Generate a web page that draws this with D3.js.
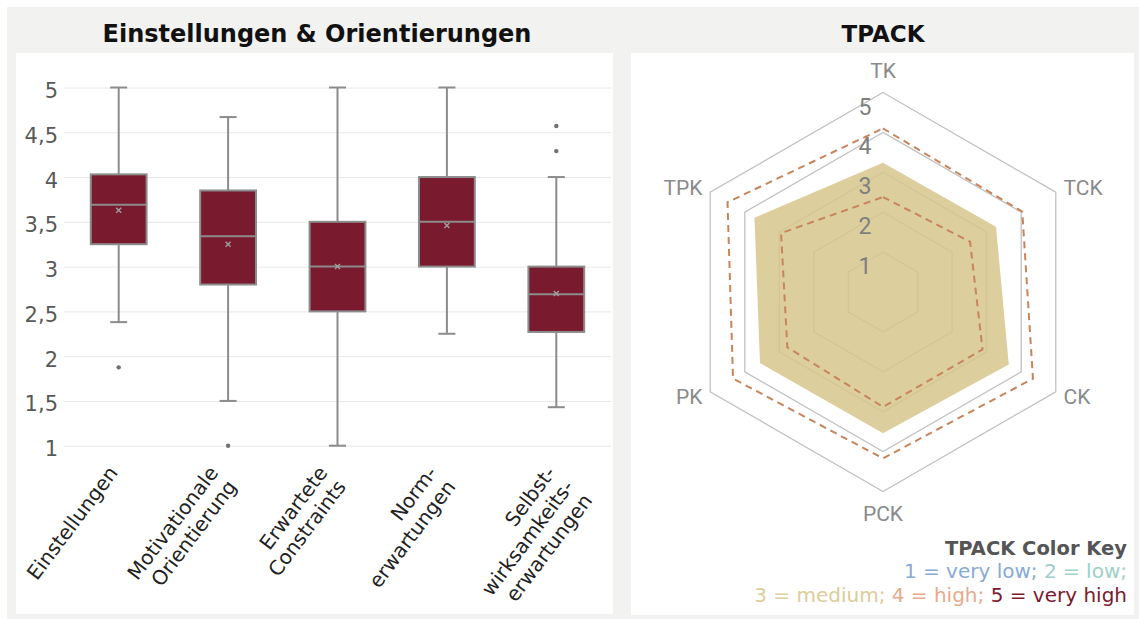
<!DOCTYPE html>
<html>
<head>
<meta charset="utf-8">
<script src="https://cdn.jsdelivr.net/npm/d3@7"></script>
<style>
    body { margin: 0; background: #fff; }
    svg { display: block; }
</style>
</head>
<body>
<svg id="chart" width="1139" height="619"></svg>
<script>
// box plot: Einstellungen & Orientierungen
const categories = ['Einstellungen', 'Motivationale Orientierung', 'Erwartete Constraints', 'Normerwartungen', 'Selbstwirksamkeitserwartungen']
const categoryLines = [['Einstellungen'], ['Motivationale', 'Orientierung'], ['Erwartete', 'Constraints'], ['Norm-', 'erwartungen'], ['Selbst-', 'wirksamkeits-', 'erwartungen']]
const whiskerLow = [2.38, 1.5, 1.0, 2.25, 1.43]
const quartile1 = [3.25, 2.8, 2.5, 3.0, 2.27]
const medians = [3.69, 3.34, 3.0, 3.5, 2.69]
const quartile3 = [4.03, 3.85, 3.5, 4.0, 3.0]
const whiskerHigh = [5, 4.67, 5, 5, 4.0]
const means = [3.63, 3.25, 3.0, 3.46, 2.7]
const outliers = [[1.875], [1.0], [], [], [4.57, 4.29]]
const yTicks = [1, 1.5, 2, 2.5, 3, 3.5, 4, 4.5, 5]

// radar: TPACK
const tpackAxes = ['TK', 'TCK', 'CK', 'PCK', 'PK', 'TPK']
const tpackMean = [3.24, 3.27, 3.64, 3.54, 3.56, 3.72]
const tpackUpper = [4.1, 4.03, 4.34, 4.17, 4.34, 4.5]
const tpackLower = [2.38, 2.52, 2.88, 2.88, 2.77, 2.95]
const ringLevels = [1, 2, 3, 4, 5]

const legendLine1 = [['1 = very low; ', '#88aad3'], ['2 = low;', '#9dd0c8']]
const legendLine2 = [['3 = medium; ', '#dccd99'], ['4 = high; ', '#e9a98a'], ['5 = very high', '#7b1a2e']]

const svg = d3.select('#chart')
const font = 'DejaVu Sans, Verdana, sans-serif'

// backgrounds
svg.append('rect').attr('x', 7).attr('y', 7).attr('width', 1132).attr('height', 612).attr('fill', '#f2f2f0')
svg.append('rect').attr('x', 16).attr('y', 53).attr('width', 597).attr('height', 561).attr('fill', '#fff')
svg.append('rect').attr('x', 631).attr('y', 53).attr('width', 503).attr('height', 562).attr('fill', '#fff')

// titles
svg.append('text')
    .attr('x', 317).attr('y', 42)
    .attr('text-anchor', 'middle')
    .style('font-family', font).style('font-weight', 'bold').style('font-size', '24px')
    .attr('fill', '#111')
    .text('Einstellungen & Orientierungen')
svg.append('text')
    .attr('x', 883).attr('y', 42)
    .attr('text-anchor', 'middle')
    .style('font-family', font).style('font-weight', 'bold').style('font-size', '23px')
    .attr('fill', '#111')
    .text('TPACK')

// ---- box plot ----
const plotLeft = 64
const plotRight = 611
const x = d3.scaleBand().domain(categories).range([plotLeft, plotRight]).paddingInner(0.49).paddingOuter(0.245)
const y = d3.scaleLinear().domain([1, 5]).range([445.7, 87.5])

const yAxis = d3.axisLeft(y)
    .tickValues(yTicks)
    .tickSize(-(plotRight - plotLeft))
    .tickPadding(6)
    .tickFormat((d) => String(d).replace('.', ','))
const yAxisG = svg.append('g').attr('transform', `translate(${plotLeft},0)`).call(yAxis)
yAxisG.select('.domain').remove()
yAxisG.selectAll('line').attr('stroke', '#e8e8e8').attr('stroke-width', 1)
yAxisG.selectAll('text')
    .attr('dy', 10)
    .style('font-family', font).style('font-size', '21px')
    .attr('fill', '#595959')

const boxData = categories.map((c, i) => ({
    cat: c,
    lo: whiskerLow[i],
    q1: quartile1[i],
    med: medians[i],
    q3: quartile3[i],
    hi: whiskerHigh[i],
    mean: means[i],
    out: outliers[i],
}))

const boxStroke = '#8c8c8c'
const capW = 17
const boxes = svg.append('g').selectAll('g').data(boxData).join('g')
    .attr('transform', (d) => `translate(${x(d.cat) + x.bandwidth() / 2},0)`)

boxes.append('line')
    .attr('y1', (d) => y(d.hi)).attr('y2', (d) => y(d.lo))
    .attr('stroke', boxStroke).attr('stroke-width', 2)
boxes.append('line')
    .attr('x1', -capW / 2).attr('x2', capW / 2)
    .attr('y1', (d) => y(d.hi)).attr('y2', (d) => y(d.hi))
    .attr('stroke', boxStroke).attr('stroke-width', 2)
boxes.append('line')
    .attr('x1', -capW / 2).attr('x2', capW / 2)
    .attr('y1', (d) => y(d.lo)).attr('y2', (d) => y(d.lo))
    .attr('stroke', boxStroke).attr('stroke-width', 2)
boxes.append('rect')
    .attr('x', -x.bandwidth() / 2)
    .attr('width', x.bandwidth())
    .attr('y', (d) => y(d.q3))
    .attr('height', (d) => y(d.q1) - y(d.q3))
    .attr('fill', '#7a1a2e')
    .attr('stroke', boxStroke).attr('stroke-width', 2)
boxes.append('line')
    .attr('x1', -x.bandwidth() / 2).attr('x2', x.bandwidth() / 2)
    .attr('y1', (d) => y(d.med)).attr('y2', (d) => y(d.med))
    .attr('stroke', boxStroke).attr('stroke-width', 2)
boxes.append('path')
    .attr('d', (d) => {
        const m = y(d.mean)
        return `M-2.5,${m - 2.5}L2.5,${m + 2.5}M-2.5,${m + 2.5}L2.5,${m - 2.5}`
    })
    .attr('stroke', '#a0a0a0').attr('stroke-width', 1.4)
boxes.selectAll('circle').data((d) => d.out).join('circle')
    .attr('cy', (d) => y(d)).attr('r', 2.2)
    .attr('fill', '#707070')

// rotated category labels, first line ends near the tick
const lineH = 23
const labels = svg.append('g').selectAll('text').data(boxData).join('text')
    .attr('transform', (d, i) => {
        const dx = categoryLines[i].length === 2 ? -9 : 0
        return `translate(${x(d.cat) + x.bandwidth() / 2 + dx},473) rotate(-53)`
    })
    .attr('text-anchor', 'end')
    .style('font-family', font).style('font-size', '20px')
    .attr('fill', '#222')
labels.each(function (d, i) {
    d3.select(this).selectAll('tspan').data(categoryLines[i]).join('tspan')
        .attr('x', 0)
        .attr('y', (l, j) => j * lineH)
        .text((l) => l)
})

// ---- radar ----
const cx = 883
const cy = 292
const r = d3.scaleLinear().domain([0, 5]).range([0, 199.5])
const angle = (i) => (i * 2 * Math.PI) / tpackAxes.length
const pt = (v, i) => [cx + r(v) * Math.sin(angle(i)), cy - r(v) * Math.cos(angle(i))]
const line = d3.line().curve(d3.curveLinearClosed)
const radar = svg.append('g')

radar.selectAll('.ring').data(ringLevels).join('path')
    .attr('class', 'ring')
    .attr('d', (lv) => line(tpackAxes.map((a, i) => pt(lv, i))))
    .attr('fill', 'none')
    .attr('stroke', '#c2c2c2').attr('stroke-width', 1.3)

radar.append('path')
    .attr('d', line(tpackMean.map((v, i) => pt(v, i))))
    .attr('fill', '#d6c68c').attr('fill-opacity', 0.85)

radar.selectAll('.sd').data([tpackUpper, tpackLower]).join('path')
    .attr('class', 'sd')
    .attr('d', (vals) => line(vals.map((v, i) => pt(v, i))))
    .attr('fill', 'none')
    .attr('stroke', '#c8845a').attr('stroke-width', 2)
    .attr('stroke-dasharray', '7,5')

const radarFont = 'Roboto, "Liberation Sans", sans-serif'
radar.selectAll('.lvl').data(ringLevels).join('text')
    .attr('class', 'lvl')
    .attr('x', cx - 18)
    .attr('y', (lv) => cy - r(lv) + 14)
    .attr('dy', '0.35em')
    .attr('text-anchor', 'middle')
    .style('font-family', radarFont).style('font-size', '23px')
    .attr('fill', '#7f7f7f')
    .text((lv) => lv)

radar.selectAll('.ax').data(tpackAxes).join('text')
    .attr('class', 'ax')
    .each(function (a, i) {
        const s = Math.sin(angle(i))
        const c = Math.cos(angle(i))
        const d = Math.abs(s) > 0.1 ? 9 : 22
        const [vx, vy] = pt(5, i)
        d3.select(this)
            .attr('x', vx + s * d)
            .attr('y', vy - c * d)
            .attr('text-anchor', s > 0.1 ? 'start' : s < -0.1 ? 'end' : 'middle')
    })
    .attr('dy', '0.35em')
    .style('font-family', radarFont).style('font-size', '21px')
    .attr('fill', '#8a8a8a')
    .text((a) => a)

// legend
svg.append('text')
    .attr('x', 1127).attr('y', 555)
    .attr('text-anchor', 'end')
    .style('font-family', font).style('font-weight', 'bold').style('font-size', '19.5px')
    .attr('fill', '#555')
    .text('TPACK Color Key')
;[legendLine1, legendLine2].forEach((parts, k) => {
    svg.append('text')
        .attr('x', 1127).attr('y', 578 + k * 24)
        .attr('text-anchor', 'end')
        .style('font-family', font).style('font-size', '20px')
        .selectAll('tspan').data(parts).join('tspan')
        .attr('fill', (p) => p[1])
        .text((p) => p[0])
})
</script>
</body>
</html>
